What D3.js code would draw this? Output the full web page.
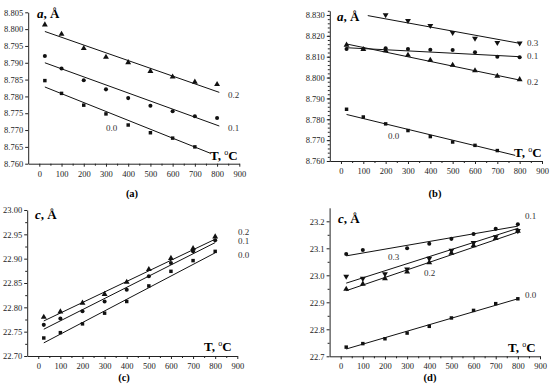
<!DOCTYPE html>
<html>
<head>
<meta charset="utf-8">
<script src="https://cdn.jsdelivr.net/npm/d3@7"></script>
<style>
  body { margin: 0; background: #fff; }
  svg { display: block; font-family: "Liberation Serif", "Times New Roman", serif; }
  svg text { font-family: "Liberation Serif", "Times New Roman", serif; }
</style>
</head>
<body>
<div id="chart"></div>
<script>
// temperatures (°C) of the measurements
const temps = [25, 100, 200, 300, 400, 500, 600, 700, 800]
const temps01d = [25, 100, 300, 400, 500, 600, 700, 800]
const tempsB03 = [200, 300, 400, 500, 600, 700, 800]

// (a) lattice parameter a, A
const aA00 = [8.7847, 8.7809, 8.7774, 8.7748, 8.7715, 8.7692, 8.7676, 8.7650]
const aA01 = [8.7920, 8.7883, 8.7848, 8.7821, 8.7795, 8.7772, 8.7756, 8.7741, 8.7736]
const aA02 = [8.8013, 8.7985, 8.7943, 8.7917, 8.7901, 8.7875, 8.7858, 8.7843, 8.7836]
// (b) lattice parameter a, A
const aB00 = [8.7848, 8.7811, 8.7778, 8.7746, 8.7717, 8.7691, 8.7675, 8.7650]
const aB01 = [8.8137, 8.8137, 8.8140, 8.8137, 8.8133, 8.8132, 8.8121, 8.8100, 8.8097]
const aB02 = [8.8156, 8.8135, 8.8129, 8.8108, 8.8084, 8.8060, 8.8033, 8.8007, 8.7991]
const aB03 = [8.8300, 8.8273, 8.8249, 8.8215, 8.8188, 8.8167, 8.8165]
// (c) lattice parameter c, A
const cC00 = [22.737, 22.748, 22.766, 22.788, 22.812, 22.844, 22.874, 22.896, 22.915]
const cC01 = [22.764, 22.777, 22.792, 22.812, 22.836, 22.864, 22.891, 22.915, 22.938]
const cC02 = [22.780, 22.791, 22.809, 22.827, 22.852, 22.878, 22.901, 22.921, 22.945]
// (d) lattice parameter c, A
const cD00 = [22.734, 22.747, 22.765, 22.786, 22.811, 22.842, 22.870, 22.895, 22.913]
const cD01 = [23.079, 23.094, 23.100, 23.117, 23.135, 23.153, 23.172, 23.189]
const cD02 = [22.949, 22.968, 22.988, 23.013, 23.047, 23.082, 23.110, 23.137, 23.164]
const cD03 = [22.996, 22.988, 23.005, 23.023, 23.062, 23.092, 23.121, 23.142, 23.165]

// fitted lines: [T start, value, T end, value]
const fitA00 = [25, 8.7828, 770, 8.7631]
const fitA01 = [25, 8.7900, 810, 8.7712]
const fitA02 = [25, 8.7993, 810, 8.7812]
const fitB00 = [25, 8.7823, 780, 8.7627]
const fitB01 = [25, 8.8143, 800, 8.8100]
const fitB02 = [25, 8.8161, 800, 8.7988]
const fitB03 = [120, 8.8297, 800, 8.8164]
const fitC00 = [25, 22.727, 800, 22.912]
const fitC01 = [25, 22.755, 800, 22.933]
const fitC02 = [25, 22.772, 800, 22.940]
const fitD00 = [25, 22.727, 800, 22.913]
const fitD01 = [25, 23.072, 800, 23.182]
const fitD02 = [25, 22.943, 800, 23.160]
const fitD03 = [25, 22.971, 800, 23.174]

const xTicks = d3.range(0, 901, 100)
const xMinor = d3.range(50, 900, 100)

const serif = '"Liberation Serif", "Times New Roman", serif'

const svg = d3.select('#chart').append('svg')
  .attr('width', 550)
  .attr('height', 386)

function steps(from, n, step, dec) {
  return d3.range(n).map(i => +(from + i * step).toFixed(dec))
}

function panel(p) {
  const x = d3.scaleLinear().domain([-50, 900]).range(p.xr)
  const y = d3.scaleLinear().domain(p.yd).range(p.yr)
  const g = svg.append('g')

  // x axis
  const xa = g.append('g').attr('transform', `translate(0,${p.yr[0]})`)
  xa.call(d3.axisBottom(x).tickValues(xTicks).tickSize(3).tickSizeOuter(0).tickPadding(4))
  xa.append('g').call(d3.axisBottom(x).tickValues(xMinor).tickSize(2).tickFormat(''))
    .select('.domain').remove()
  // y axis
  const ya = g.append('g').attr('transform', `translate(${p.xr[0]},0)`)
  ya.call(d3.axisLeft(y).tickValues(p.yTicks).tickSize(3).tickSizeOuter(0).tickPadding(2)
    .tickFormat(d3.format(p.fmt)))
  if (p.yMinor) {
    ya.append('g').call(d3.axisLeft(y).tickValues(p.yMinor).tickSize(2).tickFormat(''))
      .select('.domain').remove()
  }
  g.selectAll('.tick text')
    .attr('font-family', serif).attr('font-size', 8.5).attr('fill', '#222')
  g.selectAll('.domain, .tick line').attr('stroke', '#222')

  // fit lines
  g.append('g').selectAll('line')
    .data(p.fits)
    .enter().append('line')
    .attr('x1', d => x(d[0])).attr('y1', d => y(d[1]))
    .attr('x2', d => x(d[2])).attr('y2', d => y(d[3]))
    .attr('stroke', '#111').attr('stroke-width', 1)

  // points
  p.series.forEach(s => {
    const sym = d3.symbol().type(s.shape === 'square' ? d3.symbolSquare
      : s.shape === 'circle' ? d3.symbolCircle : d3.symbolTriangle)
      .size(s.shape === 'circle' ? 13 : s.shape === 'square' ? 12 : 15)
    g.append('g').selectAll('path')
      .data(s.values.map((v, i) => [s.t[i], v]))
      .enter().append('path')
      .attr('d', sym)
      .attr('transform', d => `translate(${x(d[0])},${y(d[1])})` + (s.shape === 'down' ? ' rotate(180)' : ''))
      .attr('fill', '#111')
  })

  // series labels
  g.append('g').selectAll('text')
    .data(p.labels)
    .enter().append('text')
    .attr('x', d => d[1]).attr('y', d => d[2])
    .attr('font-family', serif).attr('font-size', 9).attr('fill', '#333')
    .text(d => d[0])

  // axis titles
  const yt = g.append('text').attr('x', p.yTitle[0]).attr('y', p.yTitle[1])
    .attr('font-family', serif).attr('font-size', 13).attr('font-weight', 'bold')
  yt.append('tspan').attr('font-style', 'italic').text(p.yName)
  yt.append('tspan').text(', Å')
  const xt = g.append('text').attr('x', p.xTitle[0]).attr('y', p.xTitle[1])
    .attr('font-family', serif).attr('font-size', 13).attr('font-weight', 'bold')
  xt.append('tspan').text('T, ')
  xt.append('tspan').attr('font-size', 8).attr('dy', -5).attr('font-weight', 'normal').text('o')
  xt.append('tspan').attr('dy', 5).text('C')

  // caption
  g.append('text').attr('x', p.caption[1]).attr('y', p.caption[2])
    .attr('text-anchor', 'middle').attr('font-family', serif)
    .attr('font-size', 10.5).attr('font-weight', 'bold')
    .text(p.caption[0])
}

panel({
  xr: [28.2, 239.3], yd: [8.760, 8.805], yr: [163.7, 12.3],
  yTicks: steps(8.760, 10, 0.005, 3), fmt: '.3f',
  fits: [fitA00, fitA01, fitA02],
  series: [
    {t: temps, values: aA00, shape: 'square'},
    {t: temps, values: aA01, shape: 'circle'},
    {t: temps, values: aA02, shape: 'triangle'}
  ],
  labels: [['0.2', 228, 98], ['0.1', 228, 131], ['0.0', 106, 131]],
  yName: 'a', yTitle: [37, 18], xTitle: [210, 160],
  caption: ['(a)', 132, 197]
})

panel({
  xr: [329.8, 542], yd: [8.760, 8.832], yr: [161, 10.8],
  yTicks: steps(8.760, 8, 0.010, 3), yMinor: steps(8.760, 37, 0.002, 3), fmt: '.3f',
  fits: [fitB00, fitB01, fitB02, fitB03],
  series: [
    {t: temps, values: aB00, shape: 'square'},
    {t: temps, values: aB02, shape: 'triangle'},
    {t: temps, values: aB01, shape: 'circle'},
    {t: tempsB03, values: aB03, shape: 'down'}
  ],
  labels: [['0.3', 527, 46], ['0.1', 527, 59], ['0.2', 527, 85], ['0.0', 388, 139]],
  yName: 'a', yTitle: [337, 21], xTitle: [514, 157],
  caption: ['(b)', 435, 197]
})

panel({
  xr: [27.2, 237.3], yd: [22.70, 23.00], yr: [356, 210],
  yTicks: steps(22.70, 7, 0.05, 2), yMinor: steps(22.725, 6, 0.05, 3), fmt: '.2f',
  fits: [fitC00, fitC01, fitC02],
  series: [
    {t: temps, values: cC00, shape: 'square'},
    {t: temps, values: cC01, shape: 'circle'},
    {t: temps, values: cC02, shape: 'triangle'}
  ],
  labels: [['0.2', 238, 235], ['0.1', 238, 244], ['0.0', 238, 258]],
  yName: 'c', yTitle: [35, 219], xTitle: [204, 351],
  caption: ['(c)', 124, 381]
})

panel({
  xr: [329.6, 540], yd: [22.7, 23.25], yr: [356.3, 207.8],
  yTicks: steps(22.7, 6, 0.1, 1), yMinor: steps(22.75, 5, 0.1, 2), fmt: '.1f',
  fits: [fitD00, fitD01, fitD02, fitD03],
  series: [
    {t: temps, values: cD00, shape: 'square'},
    {t: temps01d, values: cD01, shape: 'circle'},
    {t: temps, values: cD02, shape: 'triangle'},
    {t: temps, values: cD03, shape: 'down'}
  ],
  labels: [['0.1', 525, 219], ['0.3', 388, 260], ['0.2', 424, 276], ['0.0', 525, 298]],
  yName: 'c', yTitle: [338, 223], xTitle: [508, 352],
  caption: ['(d)', 430, 381]
})
</script>
</body>
</html>
